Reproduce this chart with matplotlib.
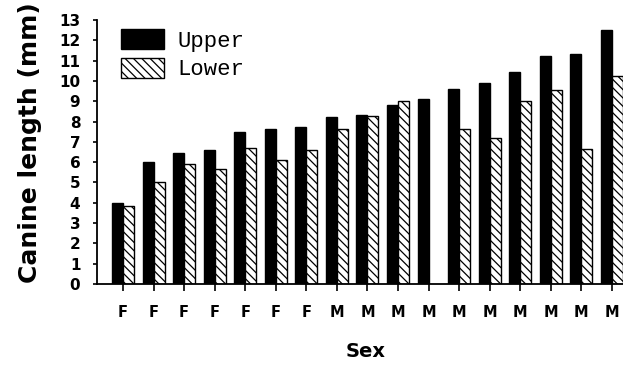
import numpy as np
import matplotlib
matplotlib.use('Agg')
import matplotlib.pyplot as plt

# Canine length per specimen, sorted by upper canine length
sexes = ['F', 'F', 'F', 'F', 'F', 'F', 'F', 'M', 'M', 'M', 'M', 'M', 'M', 'M', 'M', 'M', 'M']
upper = [4.0, 6.0, 6.47, 6.62, 7.48, 7.63, 7.73, 8.2, 8.33, 8.8, 9.1,
         9.62, 9.9, 10.44, 11.22, 11.33, 12.53]
lower = [3.85, 5.02, 5.9, 5.68, 6.7, 6.12, 6.62, 7.63, 8.28, 9.03, np.nan,
         7.65, 7.17, 9.03, 9.56, 6.64, 10.24]

plt.rcParams['hatch.linewidth'] = 0.9

fig = plt.figure(figsize=(6.23, 3.69), dpi=100)
ax = fig.add_axes([97 / 623, 85 / 369, 1 - 97 / 623, 264 / 369])

x = np.arange(len(sexes))
w = 0.36
ax.bar(x - w / 2, upper, w, color='black', edgecolor='black', lw=1, label='Upper')
ax.bar(x + w / 2, lower, w, color='white', edgecolor='black', lw=1,
       hatch='\\\\\\\\', label='Lower')

ax.set_xlim(-0.85, 16.36)
ax.set_ylim(0, 13)
ax.set_yticks(range(14))
ax.set_xticks(x, sexes)

for s in ('top', 'right'):
    ax.spines[s].set_visible(False)
ax.spines['left'].set_linewidth(1.3)
ax.spines['bottom'].set_linewidth(1.3)

ax.tick_params(axis='y', direction='out', length=3, width=1.2, pad=9, labelsize=11)
ax.tick_params(axis='x', direction='out', length=5, width=1.2, pad=10, labelsize=10.5)
for lab in ax.get_xticklabels() + ax.get_yticklabels():
    lab.set_fontweight('bold')

ax.set_ylabel('Canine length (mm)', fontsize=18, fontweight='bold')
ax.yaxis.set_label_coords(-0.105, 0.535)
ax.set_xlabel('Sex', fontsize=14, fontweight='bold')
ax.xaxis.set_label_coords(0.51, -0.22)

ax.legend(loc='upper left', bbox_to_anchor=(121 / 623, 1 - 29 / 369),
          bbox_transform=fig.transFigure, frameon=False,
          prop={'family': 'Liberation Mono', 'size': 16},
          handlelength=1.95, handleheight=1.0, labelspacing=0.28,
          handletextpad=0.6, borderpad=0, borderaxespad=0)

fig.savefig('out.png', dpi=100)
